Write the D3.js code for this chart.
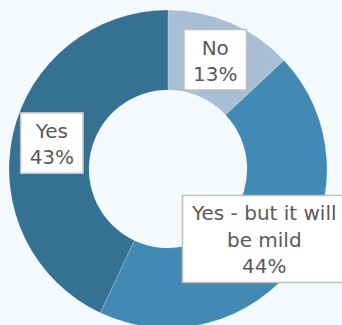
<!DOCTYPE html>
<html><head><meta charset="utf-8">
<script src="https://cdn.jsdelivr.net/npm/d3@7"></script>
<style>
html,body{margin:0;padding:0;background:#f4fafc;overflow:hidden;}
svg{display:block;}
</style></head>
<body>
<svg id="chart" width="342" height="325"></svg>
<script>
const categories = ["No", "Yes - but it will be mild", "Yes"];
const labelLines = [["No"], ["Yes - but it will", "be mild"], ["Yes"]];
const values = [13, 44, 43];
const colors = ["#a7bed5", "#428ab4", "#347192"];

const W = 342, H = 325;
const cx = 168, cy = 169, outerR = 159, innerR = 79;
const svg = d3.select("#chart");
svg.append("rect").attr("width", W).attr("height", H).attr("fill", "#f4fafc");

const data = categories.map((c, i) => ({cat: c, lines: labelLines[i], value: values[i], color: colors[i]}));
const pie = d3.pie().value(d => d.value).sort(null);
const arc = d3.arc().innerRadius(innerR).outerRadius(outerR);
const arcs = pie(data);

const g = svg.append("g").attr("transform", `translate(${cx},${cy})`);
g.selectAll("path.slice").data(arcs).join("path")
  .attr("class", "slice")
  .attr("d", arc)
  .attr("fill", d => d.data.color)
  .attr("stroke", "#ffffff").attr("stroke-opacity", 0.35).attr("stroke-width", 0.6);

const fontSize = 20, lineH = 26.5, padX = 9, padTop = 25, padBottom = 9;
const lab = g.selectAll("g.lab").data(arcs).join("g").attr("class", "lab");
lab.each(function(d) {
  const sel = d3.select(this);
  const [x, y] = arc.centroid(d);
  const lines = d.data.lines.concat([d.data.value + "%"]);
  const rect = sel.append("rect");
  const text = sel.append("text")
    .attr("text-anchor", "middle")
    .attr("font-family", "'DejaVu Sans', sans-serif")
    .attr("font-size", fontSize)
    .attr("fill", "#5a5a5a");
  const hgt = (lines.length - 1) * lineH + padTop + padBottom;
  const top = y - hgt / 2;
  lines.forEach((t, i) => {
    text.append("tspan").attr("x", x).attr("y", top + padTop + i * lineH).text(t);
  });
  const bb = text.node().getBBox();
  const w = bb.width + 2 * padX;
  rect.attr("x", x - w / 2).attr("y", top).attr("width", w).attr("height", hgt)
    .attr("fill", "#ffffff").attr("stroke", "#bfbfbf").attr("stroke-width", 1.5);
});
</script>
</body></html>
